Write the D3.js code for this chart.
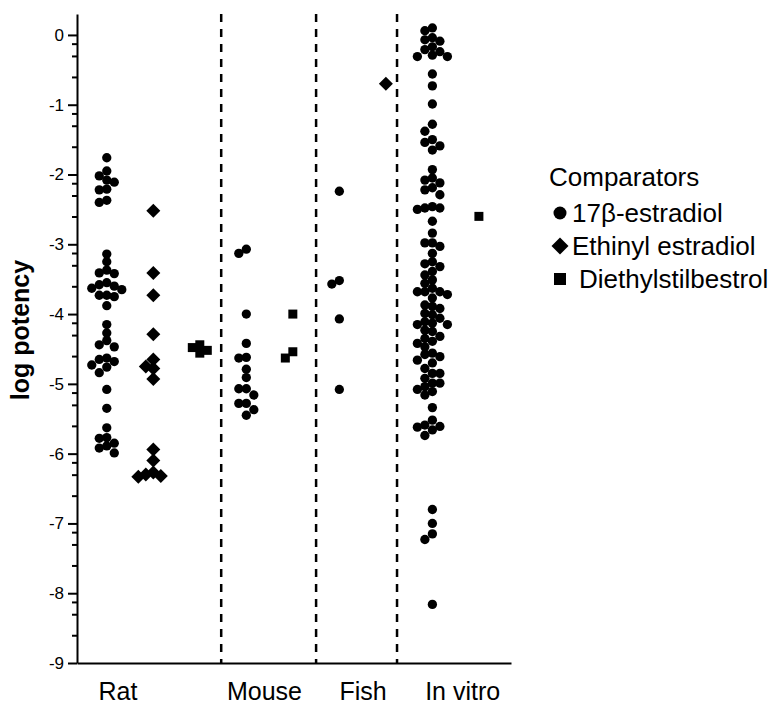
<!DOCTYPE html>
<html>
<head>
<meta charset="utf-8">
<script src="https://cdn.jsdelivr.net/npm/d3@7"></script>
<style>
  body { margin: 0; background: #fff; }
  svg { font-family: "Liberation Sans", Arial, sans-serif; }
</style>
</head>
<body>
<svg width="777" height="707"></svg>
<script>
// ---- data (log potency)
const ratE2 = [-1.76, -1.95, -2.02, -2.08, -2.11, -2.21, -2.22, -2.37, -2.40,
  -3.14, -3.25, -3.37, -3.41, -3.42, -3.55, -3.58, -3.60, -3.63, -3.65, -3.73, -3.73, -3.75, -3.88,
  -4.15, -4.27, -4.38, -4.44, -4.47, -4.63, -4.65, -4.68, -4.73, -4.76, -4.84, -5.08, -5.35,
  -5.63, -5.77, -5.78, -5.85, -5.89, -5.92, -5.99];
const ratEE = [-2.52, -3.41, -3.73, -4.29, -4.65, -4.75, -4.78, -4.93, -5.94, -6.10, -6.27, -6.30, -6.32, -6.33];
const ratDES = [-4.44, -4.48, -4.52, -4.56];
const mouseE2 = [-3.07, -3.13, -4.00, -4.42, -4.62, -4.63, -4.79, -4.91, -5.07, -5.07, -5.16, -5.28, -5.28, -5.37, -5.45];
const mouseDES = [-4.00, -4.54, -4.63];
const fishE2 = [-2.24, -3.52, -3.57, -4.07, -5.08];
const fishEE = [-0.70];
const invitroE2 = [0.10, 0.06, -0.04, -0.07, -0.09, -0.17, -0.21, -0.24, -0.29, -0.31, -0.31,
  -0.56, -0.73, -0.99, -1.28, -1.38, -1.50, -1.54, -1.59, -1.65,
  -1.93, -2.05, -2.08, -2.12, -2.19, -2.22, -2.29, -2.46, -2.48, -2.48, -2.50,
  -2.67, -2.84, -2.98, -2.98, -3.03, -3.13, -3.25, -3.28,
  -3.32, -3.39, -3.44, -3.51, -3.56, -3.63, -3.68, -3.68, -3.68, -3.72, -3.77,
  -3.87, -3.89, -3.92, -3.99, -4.01, -4.06, -4.11, -4.13, -4.15, -4.15, -4.23, -4.25,
  -4.32, -4.35, -4.39, -4.42, -4.47, -4.56, -4.58, -4.61, -4.66, -4.70, -4.78, -4.85, -4.85,
  -4.92, -4.99, -4.99, -5.04, -5.08, -5.11, -5.16,
  -5.34, -5.52, -5.59, -5.61, -5.62, -5.66, -5.74,
  -6.80, -7.00, -7.15, -7.23, -8.16];
const invitroDES = [-2.60];

const groups = ['Rat', 'Mouse', 'Fish', 'In vitro'];
const groupLabelPos = [0.23, 3.38, 5.5, 7.64];
const dividers = [2.46, 4.5, 6.24];
const comparators = ['17\u03b2-estradiol', 'Ethinyl estradiol', 'Diethylstilbestrol'];
const yTicks = d3.range(0, -10, -1);

// columns in plot order: [index, compound, values]
const columns = [
  [0, 0, ratE2], [1, 1, ratEE], [2, 2, ratDES],
  [3, 0, mouseE2], [4, 2, mouseDES],
  [5, 0, fishE2], [6, 1, fishEE],
  [7, 0, invitroE2], [8, 2, invitroDES]
];

const svg = d3.select('svg');

// ---- scales
const x = d3.scaleLinear().domain([-0.64, 8.69]).range([77, 511]);
const y = d3.scaleLinear().domain([-9, 0.3]).range([663, 14]);

// ---- symbols
const shapes = [d3.symbolCircle, d3.symbolSquare, d3.symbolSquare];
const sizes = [68, 98, 81];
const rotations = [0, 45, 0];

// simple dodge so that stacked points spread sideways
function dodge(values, step, minDist) {
  const placed = [];
  values.slice().sort((a, b) => b - a).forEach(v => {
    const py = y(v);
    for (const k of [0, -1, 1, -2, 2, -3, 3]) {
      const px = k * step;
      if (placed.every(p => Math.hypot(p.dx - px, p.py - py) >= minDist)) {
        placed.push({ v, dx: px, py });
        break;
      }
    }
  });
  return placed;
}

// ---- dashed dividers
svg.append('g').selectAll('line')
  .data(dividers)
  .join('line')
  .attr('x1', d => x(d)).attr('x2', d => x(d))
  .attr('y1', y(0.3)).attr('y2', y(-9))
  .attr('stroke', '#000')
  .attr('stroke-width', 2.5)
  .attr('stroke-dasharray', '8,7');

// ---- points
const pts = svg.append('g');
columns.forEach(([idx, comp, vals]) => {
  const placed = dodge(vals, 7.5, 7.5);
  pts.selectAll(null)
    .data(placed)
    .join('path')
    .attr('d', d3.symbol().type(shapes[comp]).size(sizes[comp]))
    .attr('transform', d => `translate(${x(idx) + d.dx},${d.py}) rotate(${rotations[comp]})`)
    .attr('fill', '#000');
});

// ---- axes
const minor = [];
yTicks.forEach(n => [0.75, 0.5, 0.25].forEach(f => {
  const t = n + Math.log10(f);
  if (t >= -9) minor.push(t);
}));

svg.append('g')
  .attr('transform', `translate(77,0)`)
  .call(d3.axisLeft(y).tickValues(minor).tickSize(5).tickSizeOuter(0).tickFormat(''))
  .call(g => g.select('.domain').remove())
  .selectAll('line').attr('stroke-width', 2);

const yAxis = svg.append('g')
  .attr('transform', `translate(77,0)`)
  .call(d3.axisLeft(y).tickValues(yTicks).tickSize(9).tickSizeOuter(0).tickPadding(4).tickFormat(d => String(d)));
yAxis.select('.domain').attr('stroke-width', 2);
yAxis.selectAll('line').attr('stroke-width', 2);
yAxis.selectAll('text').attr('font-size', 17).attr('fill', '#000').attr('font-family', '"Liberation Sans", Arial, sans-serif');

const xAxis = svg.append('g')
  .attr('transform', `translate(0,663)`)
  .call(d3.axisBottom(x).tickValues(groupLabelPos).tickSize(0).tickSizeOuter(0).tickPadding(19)
    .tickFormat((d, i) => groups[i]));
xAxis.select('.domain').attr('stroke-width', 2);
xAxis.selectAll('text').attr('font-size', 25).attr('fill', '#000').attr('font-family', '"Liberation Sans", Arial, sans-serif');

// axis title
svg.append('text')
  .attr('transform', 'translate(29,330) rotate(-90)')
  .attr('text-anchor', 'middle')
  .attr('font-size', 25)
  .attr('font-weight', 'bold')
  .text('log potency');

// ---- legend
const legend = svg.append('g').attr('transform', 'translate(549,0)');
legend.append('text')
  .attr('x', 0).attr('y', 186)
  .attr('font-size', 26)
  .text('Comparators');

const items = legend.selectAll('g.item')
  .data(comparators)
  .join('g')
  .attr('class', 'item')
  .attr('transform', (d, i) => `translate(0,${213 + i * 33})`);

const legendSizes = [133, 144, 144];
items.append('path')
  .attr('d', (d, i) => d3.symbol().type(shapes[i]).size(legendSizes[i])())
  .attr('transform', (d, i) => `translate(11,0) rotate(${rotations[i]})`)
  .attr('fill', '#000');

items.append('text')
  .attr('x', (d, i) => i === 2 ? 30 : 23)
  .attr('y', 9)
  .attr('font-size', 26)
  .text(d => d);
</script>
</body>
</html>
